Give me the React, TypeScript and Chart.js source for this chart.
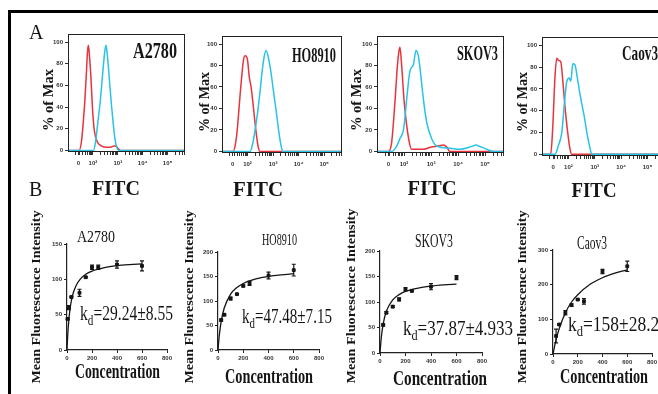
import React, { useEffect, useRef } from "react";
import { Chart, registerables } from "chart.js";

Chart.register(...registerables);

// ---------------- Panel A: flow cytometry histograms ----------------
// x = FITC display position in decades (10^2 -> 2, 10^3 -> 3 ...), y = % of Max
const HIST_TICK_POS = [1.42, 2, 3, 4, 5];
const HIST_TICK_LABELS = ["0", "10²", "10³", "10⁴", "10⁵"];
const HIST_Y_TICKS = [0, 20, 40, 60, 80, 100];

const A2780_RED_X = [1.0, 1.45, 1.55, 1.62, 1.68, 1.74, 1.78, 1.82, 1.86, 1.92, 1.98, 2.04, 2.1, 2.2, 2.35, 2.55, 2.7, 2.85, 2.92, 3.0, 3.1, 5.7];
const A2780_RED_Y = [0, 0, 10, 28, 47, 72, 90, 97, 88, 68, 40, 22, 13, 7, 4, 3, 3, 4, 4, 2, 0, 0];
const A2780_CYAN_X = [1.0, 2.02, 2.1, 2.15, 2.22, 2.29, 2.36, 2.42, 2.48, 2.53, 2.57, 2.62, 2.68, 2.75, 2.82, 2.89, 2.96, 3.02, 5.7];
const A2780_CYAN_Y = [0, 0, 7, 16, 30, 44, 62, 78, 92, 97, 90, 78, 60, 41, 24, 10, 3, 0, 0];

const HO8910_RED_X = [1.0, 1.44, 1.52, 1.58, 1.65, 1.71, 1.78, 1.84, 1.91, 2.0, 2.07, 2.14, 2.23, 2.33, 2.42, 2.49, 5.7];
const HO8910_RED_Y = [0, 0, 6, 16, 35, 53, 72, 85, 89, 85, 69, 60, 41, 19, 4, 0, 0];
const HO8910_CYAN_X = [1.0, 2.1, 2.2, 2.29, 2.36, 2.42, 2.5, 2.56, 2.65, 2.73, 2.82, 2.91, 3.01, 3.12, 3.21, 3.3, 3.38, 5.7];
const HO8910_CYAN_Y = [0, 0, 7, 19, 30, 41, 58, 72, 88, 94, 87, 75, 57, 38, 21, 7, 0, 0];

const SKOV3_RED_X = [1.0, 1.42, 1.54, 1.67, 1.75, 1.81, 1.85, 1.91, 2.0, 2.1, 2.2, 2.28, 2.72, 3.02, 3.27, 3.46, 3.58, 3.7, 5.7];
const SKOV3_RED_Y = [0, 0, 8, 48, 78, 93, 97, 81, 48, 24, 8, 2, 2, 4, 5, 6, 4, 0, 0];
const SKOV3_CYAN_X = [1.0, 1.54, 1.73, 1.85, 1.98, 2.04, 2.12, 2.22, 2.35, 2.44, 2.53, 2.59, 2.72, 2.84, 3.02, 3.21, 3.7, 4.07, 4.44, 4.69, 4.75, 4.88, 5.06, 5.31, 5.7];
const SKOV3_CYAN_Y = [0, 0, 5, 12, 20, 33, 54, 75, 81, 94, 89, 78, 48, 27, 12, 5, 3, 2, 4, 6, 5, 4, 2, 0, 0];

const CAOV3_RED_X = [1.0, 1.33, 1.41, 1.49, 1.56, 1.63, 1.71, 1.79, 1.87, 1.96, 2.06, 2.13, 5.7];
const CAOV3_RED_Y = [0, 0, 26, 70, 88, 86, 85, 67, 44, 23, 5, 0, 0];
const CAOV3_CYAN_X = [1.0, 1.49, 1.62, 1.75, 1.84, 1.94, 2.03, 2.09, 2.17, 2.25, 2.34, 2.42, 2.51, 2.6, 2.7, 2.8, 2.89, 5.7];
const CAOV3_CYAN_Y = [0, 0, 8, 20, 44, 67, 70, 67, 83, 82, 70, 58, 46, 35, 20, 8, 0, 0];

// ---------------- Panel B: saturation binding ----------------
const B_X_TICKS_STEP = 200;

const A2780_CONC = [5, 15, 35, 100, 150, 200, 250, 400, 600];
const A2780_MFI = [44, 60, 75, 81, 103, 117, 117, 121, 119];
const A2780_ERR = [1, 3, 1, 5, 1, 3, 3, 5, 7];
const A2780_FIT_X = [0, 5, 15, 25, 35, 50, 75, 100, 150, 200, 300, 400, 500, 600];
const A2780_FIT_Y = [0, 18.5, 43.4, 59, 69.7, 80.7, 92.1, 99, 107.1, 111.7, 116.6, 119.3, 120.9, 122];

const HO8910_CONC = [25, 50, 100, 150, 200, 250, 400, 600];
const HO8910_MFI = [61, 72, 105, 114, 131, 136, 152, 163];
const HO8910_ERR = [2, 2, 3, 1, 2, 4, 7, 12];
const HO8910_FIT_X = [0, 10, 25, 50, 100, 150, 200, 300, 400, 500, 600];
const HO8910_FIT_Y = [0, 29.2, 58, 86.2, 113.9, 127.6, 135.8, 145, 150.2, 153.4, 155.7];

const SKOV3_CONC = [25, 50, 100, 150, 200, 250, 400, 600];
const SKOV3_MFI = [55, 79, 91, 105, 125, 122, 130, 148];
const SKOV3_ERR = [2, 2, 2, 3, 3, 2, 6, 4];
const SKOV3_FIT_X = [0, 10, 25, 50, 100, 150, 200, 300, 400, 500, 600];
const SKOV3_FIT_Y = [0, 30, 57.1, 81.7, 104.1, 114.5, 120.7, 127.4, 131.1, 133.4, 135];

const CAOV3_CONC = [25, 50, 100, 150, 200, 250, 400, 600];
const CAOV3_MFI = [52, 85, 119, 141, 157, 152, 238, 253];
const CAOV3_ERR = [20, 2, 6, 4, 2, 8, 6, 15];
const CAOV3_FIT_X = [0, 25, 50, 100, 150, 200, 300, 400, 500, 600];
const CAOV3_FIT_Y = [0, 42, 73, 119, 150, 171, 201, 220, 233, 243];

const RED = "#e8333c";
const CYAN = "#29c3e6";
const INK = "#151515";
const SERIF = "'Liberation Serif', 'Times New Roman', serif";

type Area = { l: number; r: number; t: number; b: number };

const framePlugin = {
  id: "frameBox",
  afterDatasetsDraw(chart: any) {
    const { ctx, chartArea: a } = chart;
    ctx.save();
    ctx.strokeStyle = "#222";
    ctx.lineWidth = 1;
    ctx.strokeRect(a.left + 0.5, a.top + 0.5, a.right - a.left - 1, a.bottom - a.top - 1);
    ctx.restore();
  },
};

const errorBarPlugin = {
  id: "errorBars",
  afterDatasetsDraw(chart: any) {
    const ctx = chart.ctx;
    const ys = chart.scales.y;
    chart.data.datasets.forEach((ds: any, i: number) => {
      if (!ds.errors) return;
      const meta = chart.getDatasetMeta(i);
      ctx.save();
      ctx.strokeStyle = INK;
      ctx.lineWidth = 1.2;
      meta.data.forEach((pt: any, j: number) => {
        const v = ds.data[j].y;
        const e = ds.errors[j];
        const y1 = ys.getPixelForValue(v - e);
        const y2 = ys.getPixelForValue(v + e);
        ctx.beginPath();
        ctx.moveTo(pt.x, y1);
        ctx.lineTo(pt.x, y2);
        ctx.moveTo(pt.x - 2, y1);
        ctx.lineTo(pt.x + 2, y1);
        ctx.moveTo(pt.x - 2, y2);
        ctx.lineTo(pt.x + 2, y2);
        ctx.stroke();
      });
      ctx.restore();
    });
  },
};

const tickFont = { size: 6, weight: "bold" as const, family: "'Liberation Sans', Arial, sans-serif" };

function pts(xs: number[], ys: number[]) {
  return xs.map((x, i) => ({ x, y: ys[i] }));
}

const H_PAD_L = 26, H_PAD_T = 8, H_PAD_R = 10, H_X_H = 20;

function histMinorTicks() {
  const out: number[] = [];
  for (let d = 1; d <= 5; d++) for (let k = 2; k <= 9; k++) out.push(d + Math.log10(k));
  return out;
}

function histConfig(rx: number[], ry: number[], cx: number[], cy: number[]) {
  const ticks = [...HIST_TICK_POS, ...histMinorTicks().filter((v) => v > 1.0 && v < 5.7)].sort((a, b) => a - b);
  return {
    type: "scatter",
    data: {
      datasets: [
        { data: pts(cx, cy), showLine: true, borderColor: CYAN, borderWidth: 1.5, pointRadius: 0, cubicInterpolationMode: "monotone" },
        { data: pts(rx, ry), showLine: true, borderColor: RED, borderWidth: 1.5, pointRadius: 0, cubicInterpolationMode: "monotone" },
      ],
    },
    options: {
      animation: false,
      responsive: false,
      maintainAspectRatio: false,
      layout: { padding: { top: H_PAD_T, right: H_PAD_R, left: 0, bottom: 0 } },
      plugins: { legend: { display: false }, tooltip: { enabled: false } },
      scales: {
        x: {
          type: "linear",
          min: 1.0,
          max: 5.7,
          afterFit: (s: any) => { s.height = H_X_H; },
          afterBuildTicks: (s: any) => { s.ticks = ticks.map((v) => ({ value: v })); },
          ticks: {
            autoSkip: false,
            maxRotation: 0,
            padding: 5,
            font: tickFont,
            color: "#333",
            callback: (v: number) => {
              const i = HIST_TICK_POS.indexOf(v);
              return i >= 0 ? HIST_TICK_LABELS[i] : "";
            },
          },
          grid: { drawOnChartArea: false, tickLength: 3, color: "#333" },
          border: { display: false },
        },
        y: {
          type: "linear",
          min: -1.5,
          max: 107.5,
          afterFit: (s: any) => { s.width = H_PAD_L; },
          afterBuildTicks: (s: any) => { s.ticks = HIST_Y_TICKS.map((v) => ({ value: v })); },
          ticks: { padding: 2, font: tickFont, color: "#333" },
          grid: { drawOnChartArea: false, tickLength: 3, color: "#333" },
          border: { display: false },
        },
      },
    },
    plugins: [framePlugin],
  };
}

const B_PAD_L = 26, B_PAD_T = 6, B_PAD_R = 8, B_X_H = 14;

function bindConfig(conc: number[], mfi: number[], err: number[], fx: number[], fy: number[], yMax: number, yStep: number) {
  return {
    type: "scatter",
    data: {
      datasets: [
        { data: pts(conc, mfi), errors: err, pointStyle: "rect", pointRadius: 2, backgroundColor: INK, borderColor: INK, clip: false },
        { data: pts(fx, fy), showLine: true, borderColor: INK, borderWidth: 1.3, pointRadius: 0, cubicInterpolationMode: "monotone" },
      ],
    },
    options: {
      animation: false,
      responsive: false,
      maintainAspectRatio: false,
      layout: { padding: { top: B_PAD_T, right: B_PAD_R, left: 0, bottom: 0 } },
      plugins: { legend: { display: false }, tooltip: { enabled: false } },
      scales: {
        x: {
          type: "linear",
          min: 0,
          max: 800,
          afterFit: (s: any) => { s.height = B_X_H; },
          ticks: { stepSize: B_X_TICKS_STEP, maxRotation: 0, padding: 2, font: tickFont, color: "#333" },
          grid: { drawOnChartArea: false, tickLength: 3, color: "#222" },
          border: { display: true, color: "#222", width: 1.2 },
        },
        y: {
          type: "linear",
          min: 0,
          max: yMax,
          afterFit: (s: any) => { s.width = B_PAD_L; },
          ticks: { stepSize: yStep, padding: 2, font: tickFont, color: "#333" },
          grid: { drawOnChartArea: false, tickLength: 3, color: "#222" },
          border: { display: true, color: "#222", width: 1.2 },
        },
      },
    },
    plugins: [errorBarPlugin],
  };
}

function ChartBox({ area, padL, padT, padR, xH, config }: { area: Area; padL: number; padT: number; padR: number; xH: number; config: any }) {
  const ref = useRef<HTMLCanvasElement>(null);
  const left = area.l - padL;
  const top = area.t - padT;
  const width = area.r - area.l + padL + padR;
  const height = area.b - area.t + padT + xH;
  useEffect(() => {
    const chart = new Chart(ref.current as HTMLCanvasElement, config);
    return () => chart.destroy();
  }, []);
  return (
    <canvas
      ref={ref}
      width={width}
      height={height}
      style={{ position: "absolute", left, top, width, height }}
    />
  );
}

function T({ x, y, size, text, len, anchor = "start", weight = "normal", rot = false }: any) {
  const common: any = {
    fontFamily: SERIF,
    fontSize: size,
    fontWeight: weight,
    fill: INK,
    textAnchor: anchor,
  };
  if (len) {
    common.textLength = len;
    common.lengthAdjust = "spacingAndGlyphs";
  }
  if (rot) {
    return (
      <text transform={`translate(${x} ${y}) rotate(-90)`} {...common}>
        {text}
      </text>
    );
  }
  return (
    <text x={x} y={y} {...common}>
      {text}
    </text>
  );
}

function Kd({ x, y, size, value, len }: any) {
  return (
    <text x={x} y={y} fontFamily={SERIF} fontSize={size} fill={INK} textLength={len} lengthAdjust="spacingAndGlyphs">
      k
      <tspan dy={size * 0.25} fontSize={size * 0.72}>d</tspan>
      <tspan dy={-size * 0.25}>{value}</tspan>
    </text>
  );
}

const HIST_AREAS: Area[] = [
  { l: 68, r: 185, t: 34, b: 152 },
  { l: 222, r: 342, t: 36, b: 153 },
  { l: 377, r: 504, t: 36, b: 153 },
  { l: 542, r: 666, t: 37, b: 156 },
];

const BIND_AREAS: Area[] = [
  { l: 67, r: 167, t: 244, b: 350 },
  { l: 218, r: 319, t: 252, b: 350 },
  { l: 380, r: 482, t: 251, b: 353 },
  { l: 553, r: 652, t: 250, b: 354 },
];

export default function App() {
  const hist = [
    histConfig(A2780_RED_X, A2780_RED_Y, A2780_CYAN_X, A2780_CYAN_Y),
    histConfig(HO8910_RED_X, HO8910_RED_Y, HO8910_CYAN_X, HO8910_CYAN_Y),
    histConfig(SKOV3_RED_X, SKOV3_RED_Y, SKOV3_CYAN_X, SKOV3_CYAN_Y),
    histConfig(CAOV3_RED_X, CAOV3_RED_Y, CAOV3_CYAN_X, CAOV3_CYAN_Y),
  ];
  const bind = [
    bindConfig(A2780_CONC, A2780_MFI, A2780_ERR, A2780_FIT_X, A2780_FIT_Y, 150, 50),
    bindConfig(HO8910_CONC, HO8910_MFI, HO8910_ERR, HO8910_FIT_X, HO8910_FIT_Y, 200, 50),
    bindConfig(SKOV3_CONC, SKOV3_MFI, SKOV3_ERR, SKOV3_FIT_X, SKOV3_FIT_Y, 200, 50),
    bindConfig(CAOV3_CONC, CAOV3_MFI, CAOV3_ERR, CAOV3_FIT_X, CAOV3_FIT_Y, 300, 100),
  ];
  return (
    <div style={{ position: "absolute", left: 0, top: 0, width: 658, height: 394, overflow: "hidden", background: "#fff" }}>
      <div style={{ position: "absolute", left: 8, top: 10, width: 720, height: 480, border: "3px solid #000" }} />
      {hist.map((c, i) => (
        <ChartBox key={"h" + i} area={HIST_AREAS[i]} padL={H_PAD_L} padT={H_PAD_T} padR={H_PAD_R} xH={H_X_H} config={c} />
      ))}
      {bind.map((c, i) => (
        <ChartBox key={"b" + i} area={BIND_AREAS[i]} padL={B_PAD_L} padT={B_PAD_T} padR={B_PAD_R} xH={B_X_H} config={c} />
      ))}
      <svg width={658} height={394} style={{ position: "absolute", left: 0, top: 0, pointerEvents: "none" }}>
        <T x={29} y={39} size={20} text="A" />
        <T x={29} y={196} size={20} text="B" />

        <T x={133} y={58} size={24} weight="bold" text="A2780" len={44} />
        <T x={292} y={62} size={22} weight="bold" text="HO8910" len={44} />
        <T x={457} y={60} size={21} weight="bold" text="SKOV3" len={41} />
        <T x={622} y={60} size={22} weight="bold" text="Caov3" len={36} />

        <T x={53} y={100} size={15} weight="bold" text="% of Max" len={62} anchor="middle" rot />
        <T x={209} y={102} size={15} weight="bold" text="% of Max" len={60} anchor="middle" rot />
        <T x={361} y={100} size={15} weight="bold" text="% of Max" len={62} anchor="middle" rot />
        <T x={527} y={102} size={15} weight="bold" text="% of Max" len={60} anchor="middle" rot />

        <T x={116} y={195} size={22} weight="bold" text="FITC" len={48} anchor="middle" />
        <T x={258} y={196} size={22} weight="bold" text="FITC" len={50} anchor="middle" />
        <T x={432} y={195} size={22} weight="bold" text="FITC" len={49} anchor="middle" />
        <T x={594} y={197} size={22} weight="bold" text="FITC" len={45} anchor="middle" />

        <T x={96} y={242} size={17} text="A2780" len={38} anchor="middle" />
        <T x={279.5} y={245} size={17} text="HO8910" len={35} anchor="middle" />
        <T x={434} y={247} size={19} text="SKOV3" len={38} anchor="middle" />
        <T x={592} y={249} size={18} text="Caov3" len={30} anchor="middle" />

        <Kd x={80} y={320} size={20} value="=29.24±8.55" len={93} />
        <Kd x={242} y={323} size={20} value="=47.48±7.15" len={90} />
        <Kd x={403} y={335} size={21} value="=37.87±4.933" len={110} />
        <Kd x={568} y={331} size={21} value="=158±28.22" len={100} />

        <T x={40} y={297} size={13} weight="bold" text="Mean Fluorescence Intensity" len={173} anchor="middle" rot />
        <T x={193} y={297} size={13} weight="bold" text="Mean Fluorescence Intensity" len={173} anchor="middle" rot />
        <T x={355} y={296} size={13} weight="bold" text="Mean Fluorescence Intensity" len={175} anchor="middle" rot />
        <T x={526} y={297} size={13} weight="bold" text="Mean Fluorescence Intensity" len={173} anchor="middle" rot />

        <T x={117.5} y={378} size={20} weight="bold" text="Concentration" len={85} anchor="middle" />
        <T x={269} y={383} size={20} weight="bold" text="Concentration" len={88} anchor="middle" />
        <T x={440} y={385} size={21} weight="bold" text="Concentration" len={94} anchor="middle" />
        <T x={604} y={383} size={20} weight="bold" text="Concentration" len={88} anchor="middle" />
      </svg>
    </div>
  );
}
